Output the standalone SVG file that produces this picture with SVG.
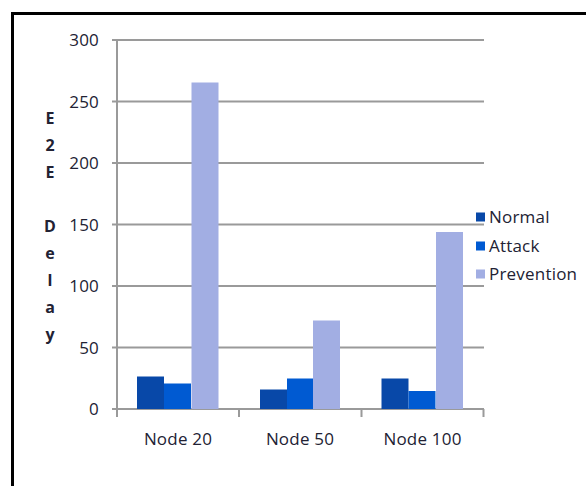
<svg xmlns="http://www.w3.org/2000/svg" width="586" height="486" viewBox="0 0 586 486">
<style>
.grid{stroke:#9a9a9a;stroke-width:2;fill:none}
.t{font-family:"Open Sans","Liberation Sans",sans-serif;font-size:17px;letter-spacing:0.2px;fill:#222233}
.tick{text-anchor:end}
.cat{text-anchor:middle}
.ax{font-family:"Open Sans","Liberation Sans",sans-serif;font-size:16px;font-weight:bold;fill:#222233;text-anchor:middle}
.n{fill:#0848A8}
.a{fill:#005AD2}
.p{fill:#A2AEE3}
</style>
<rect width="586" height="486" fill="#fff"/>
<path d="M12.5 490 V13.5 H590" fill="none" stroke="#000" stroke-width="3"/>
<g id="gridlines">
<path class="grid" d="M112 40 H484 M112 101.5 H484 M112 163 H484 M112 224.5 H484 M112 286 H484 M112 347.5 H484"/>
<path class="grid" d="M117 40 V409 M112 409 H484 M117 409 V417 M239 409 V417 M361.5 409 V417 M483.5 409 V417"/>
</g>
<g id="ticks">
<text class="t tick" x="99" y="46">300</text>
<text class="t tick" x="99" y="107.5">250</text>
<text class="t tick" x="99" y="169">200</text>
<text class="t tick" x="99" y="230.5">150</text>
<text class="t tick" x="99" y="292">100</text>
<text class="t tick" x="99" y="353.5">50</text>
<text class="t tick" x="99" y="415">0</text>
</g>
<g id="axis-title">
<text class="ax" x="50" y="124">E</text>
<text class="ax" x="50" y="151">2</text>
<text class="ax" x="50" y="178">E</text>
<text class="ax" x="50" y="232">D</text>
<text class="ax" x="50" y="259">e</text>
<text class="ax" x="50" y="286">l</text>
<text class="ax" x="50" y="313">a</text>
<text class="ax" x="50" y="340">y</text>
</g>
<g id="node20">
<rect class="n" x="137" y="376.5" width="27" height="32.5"/>
<rect class="a" x="164" y="383.5" width="27" height="25.5"/>
<rect class="p" x="191.5" y="82.5" width="27" height="326.5"/>
<text class="t cat" x="178" y="445">Node 20</text>
</g>
<g id="node50">
<rect class="n" x="260" y="389.5" width="27" height="19.5"/>
<rect class="a" x="287" y="378.5" width="26" height="30.5"/>
<rect class="p" x="313" y="320.5" width="27" height="88.5"/>
<text class="t cat" x="300" y="445">Node 50</text>
</g>
<g id="node100">
<rect class="n" x="381.5" y="378.5" width="27" height="30.5"/>
<rect class="a" x="408.5" y="391" width="27" height="18"/>
<rect class="p" x="436" y="232" width="27" height="177"/>
<text class="t cat" x="422.5" y="445">Node 100</text>
</g>
<g id="legend">
<rect class="n" x="476" y="212.5" width="9" height="9"/>
<text class="t" x="489" y="223">Normal</text>
<rect class="a" x="476" y="241.5" width="9" height="9"/>
<text class="t" x="489" y="252">Attack</text>
<rect class="p" x="476" y="269.5" width="9" height="9"/>
<text class="t" x="489" y="280">Prevention</text>
</g>
</svg>
